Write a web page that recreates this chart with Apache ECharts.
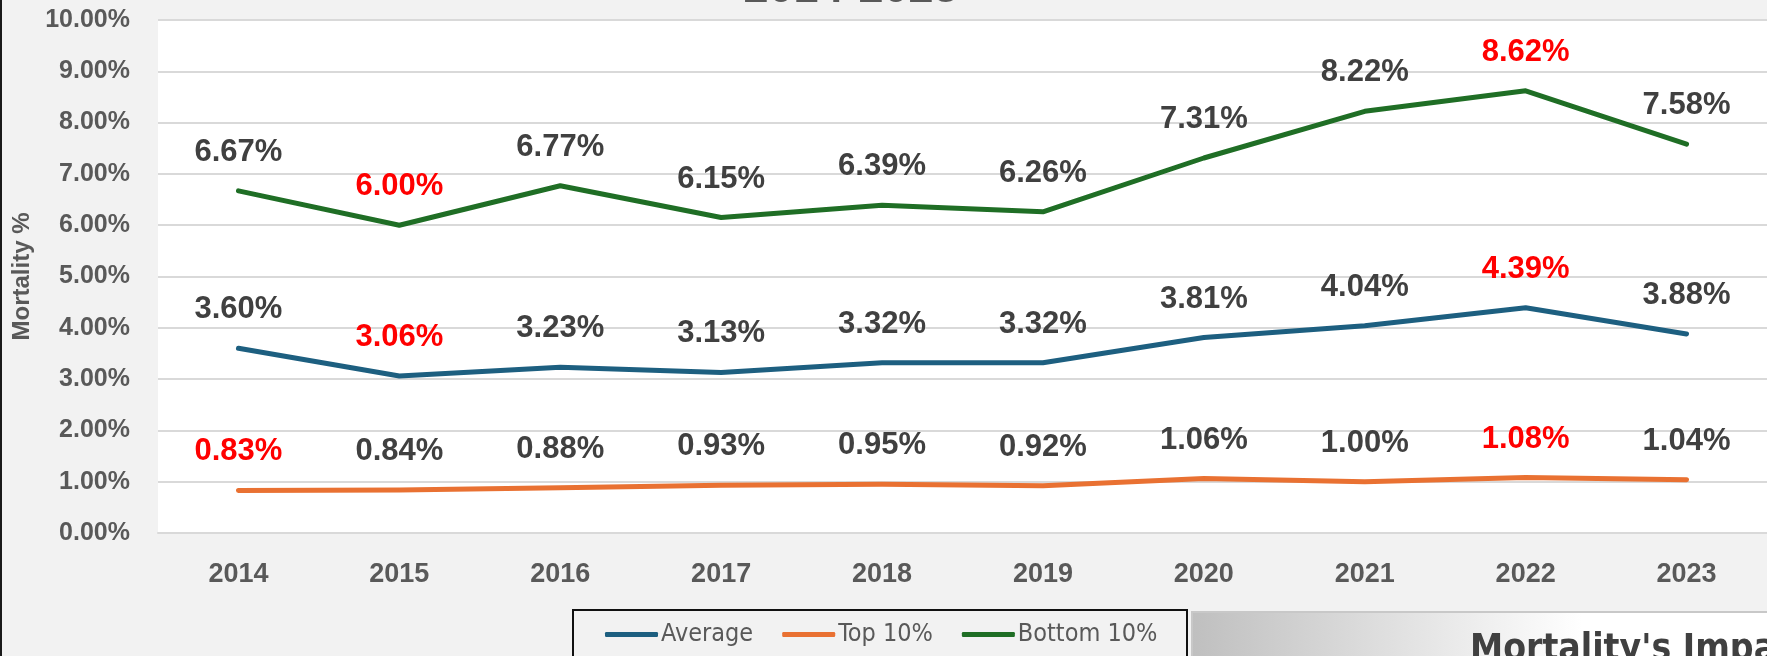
<!DOCTYPE html>
<html>
<head>
<meta charset="utf-8">
<script src="https://cdn.jsdelivr.net/npm/echarts@6/dist/echarts.min.js"></script>
<style>
  html, body { margin: 0; padding: 0; background: #f2f2f2; }
  #chart { width: 1767px; height: 656px; }
</style>
</head>
<body>
<div id="chart"></div>
<script>
// 年份和三条死亡率曲线
const years = ['2014', '2015', '2016', '2017', '2018', '2019', '2020', '2021', '2022', '2023'];
const averageData = [3.60, 3.06, 3.23, 3.13, 3.32, 3.32, 3.81, 4.04, 4.39, 3.88];
const top10Data = [0.83, 0.84, 0.88, 0.93, 0.95, 0.92, 1.06, 1.00, 1.08, 1.04];
const bottom10Data = [6.67, 6.00, 6.77, 6.15, 6.39, 6.26, 7.31, 8.22, 8.62, 7.58];
const seriesNames = ['Average', 'Top 10%', 'Bottom 10%'];
const seriesColors = ['#1d5f80', '#e97132', '#1f6e25'];

const FONT = "'Liberation Sans', Arial, sans-serif";
const NARROW = "'Liberation Sans Narrow', 'DejaVu Sans Condensed', sans-serif";

// 最小值和最大值标签用红色
function withLabels(values) {
  const lo = Math.min(...values);
  const hi = Math.max(...values);
  return values.map(v => ({
    value: v,
    label: { color: (v === lo || v === hi) ? '#ff0000' : '#404040' }
  }));
}

function makeSeries(name, values, color) {
  return {
    name: name,
    type: 'line',
    data: withLabels(values),
    symbol: 'circle',
    symbolSize: 2,
    showSymbol: true,
    itemStyle: { color: color },
    lineStyle: { color: color, width: 5, cap: 'round', join: 'round' },
    label: {
      show: true,
      position: 'top',
      distance: 22,
      fontFamily: FONT,
      fontSize: 31,
      fontWeight: 'bold',
      formatter: p => p.value.toFixed(2) + '%'
    },
    emphasis: { disabled: true },
    animation: false
  };
}

const chart = echarts.init(document.getElementById('chart'));

const option = {
  backgroundColor: '#f2f2f2',
  grid: {
    left: 158,
    top: 20,
    width: 1612,
    height: 513,
    show: true,
    backgroundColor: '#ffffff',
    borderWidth: 0
  },
  xAxis: {
    type: 'category',
    data: years,
    boundaryGap: true,
    axisLine: { lineStyle: { color: '#d9d9d9', width: 2 } },
    axisTick: { show: false },
    axisLabel: {
      margin: 28,
      fontFamily: FONT,
      fontSize: 27,
      fontWeight: 'bold',
      color: '#595959'
    }
  },
  yAxis: {
    type: 'value',
    min: 0,
    max: 10,
    interval: 1,
    name: 'Mortality %',
    nameLocation: 'middle',
    nameRotate: 90,
    nameGap: 121,
    nameTextStyle: {
      fontFamily: FONT,
      fontSize: 24,
      fontWeight: 'bold',
      color: '#595959'
    },
    axisLine: { show: false },
    axisTick: { show: false },
    splitLine: { lineStyle: { color: '#d9d9d9', width: 2 } },
    axisLabel: {
      margin: 28,
      fontFamily: FONT,
      fontSize: 25,
      fontWeight: 'bold',
      color: '#595959',
      formatter: v => v.toFixed(2) + '%'
    }
  },
  legend: {
    data: seriesNames,
    left: 605,
    top: 622,
    icon: 'roundRect',
    itemWidth: 53,
    itemHeight: 5,
    itemGap: 29,
    padding: 0,
    textStyle: {
      fontFamily: NARROW,
      fontSize: 25,
      color: '#595959',
      padding: [0, 0, 0, -2]
    }
  },
  graphic: [
    // 左边黑色边线
    { type: 'rect', left: 0, top: 0, shape: { width: 2, height: 656 }, style: { fill: '#1a1a1a' }, silent: true },
    // 被截掉的标题
    {
      type: 'text', x: 851, y: -10, silent: true,
      style: {
        text: '2014-2023', align: 'center', verticalAlign: 'middle',
        font: "bold 45px 'Liberation Sans', Arial, sans-serif", fill: '#595959'
      }
    },
    // 图例外框
    {
      type: 'rect', x: 573, y: 610, silent: true,
      shape: { width: 614, height: 70 },
      style: { fill: 'none', stroke: '#111111', lineWidth: 2 }
    },
    // 右下角渐变框
    {
      type: 'rect', x: 1192, y: 612, silent: true,
      shape: { width: 600, height: 70 },
      style: {
        fill: new echarts.graphic.LinearGradient(0, 0, 1, 0, [
          { offset: 0, color: '#bfbfbf' },
          { offset: 0.65, color: '#ffffff' },
          { offset: 1, color: '#ffffff' }
        ]),
        stroke: '#c8c8c8', lineWidth: 2
      }
    },
    {
      type: 'text', x: 1470, y: 632, silent: true,
      style: {
        text: "Mortality's Impact", align: 'left', verticalAlign: 'top',
        font: "bold 37px 'Liberation Sans Narrow', 'DejaVu Sans Condensed', sans-serif", fill: '#404040'
      }
    }
  ],
  series: [
    makeSeries(seriesNames[0], averageData, seriesColors[0]),
    makeSeries(seriesNames[1], top10Data, seriesColors[1]),
    makeSeries(seriesNames[2], bottom10Data, seriesColors[2])
  ]
};

chart.setOption(option);
</script>
</body>
</html>
